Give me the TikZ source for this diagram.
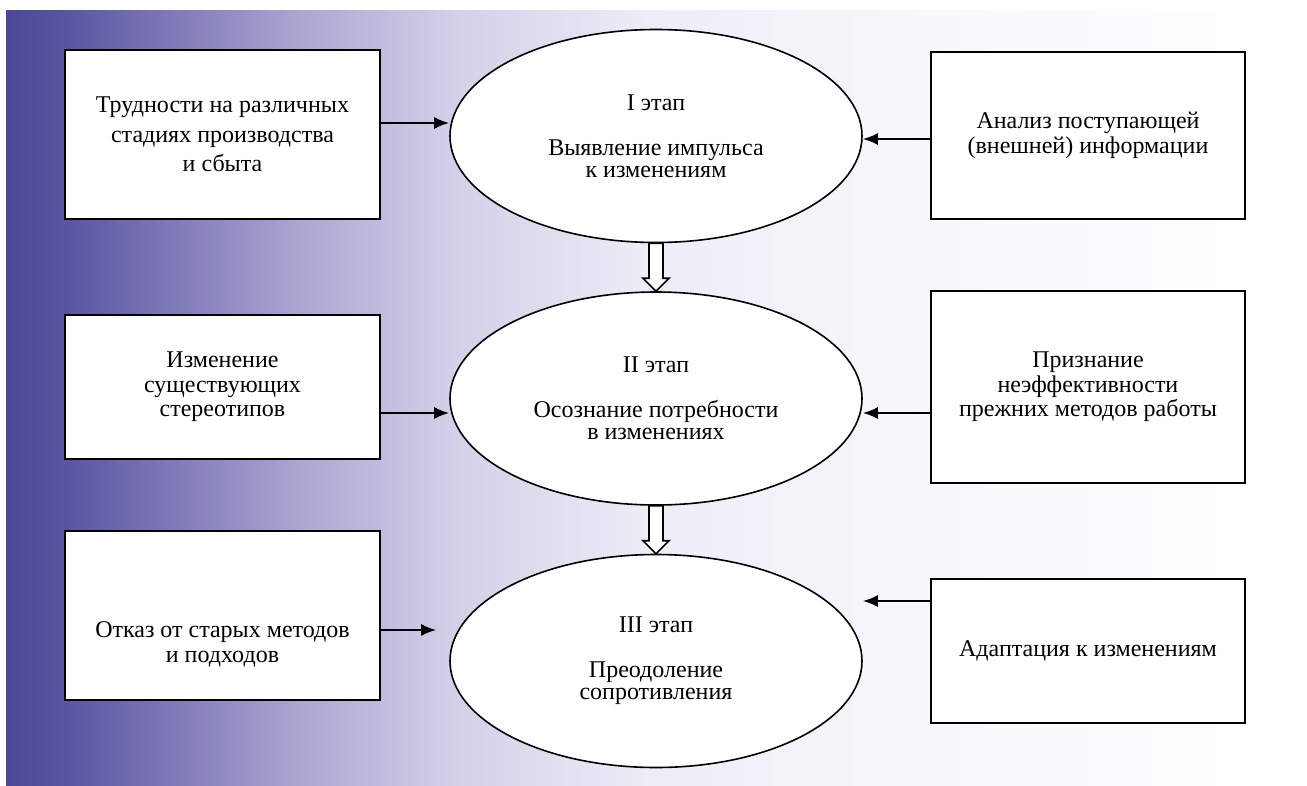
\documentclass[tikz,border=0pt]{standalone}
\usepackage{fontspec}
\setmainfont{Liberation Serif}
\usetikzlibrary{arrows.meta}
\usetikzlibrary{calc}
\usetikzlibrary{shapes.geometric}

\definecolor{bgdark}{RGB}{75,72,153}
\definecolor{bgmid}{RGB}{172,166,210}
\definecolor{bglight}{RGB}{211,207,232}
\definecolor{bgpale}{RGB}{238,237,247}
\definecolor{bgwhite}{RGB}{250,250,253}

\tikzset{
  every node/.style={font=\rmfamily\fontsize{24}{24.5}\selectfont},
  factor/.style={rectangle, draw, line width=1.8pt, fill=white, align=center, inner sep=4pt},
  stage/.style={ellipse, draw, line width=1.6pt, fill=white, align=center, inner sep=0pt,
    minimum width=412pt, minimum height=213pt, font=\rmfamily\fontsize{24}{22}\selectfont},
  push/.style={-{Latex[length=15pt, width=12pt]}, line width=2.2pt},
  blockarrow/.style={draw, line width=1.6pt, fill=white, line join=miter},
}

\begin{document}
\begin{tikzpicture}[x=1pt, y=-1pt]
      \useasboundingbox (0,0) rectangle (1307,785);
      % background
      \shade[left color=bgdark, right color=bgdark!88!bgmid] (6,10) rectangle (60,785);
      \shade[left color=bgdark!88!bgmid, right color=bgmid] (60,10) rectangle (300,785);
      \shade[left color=bgmid, right color=bglight] (300,10) rectangle (450,785);
      \shade[left color=bglight, right color=bgpale] (450,10) rectangle (650,785);
      \shade[left color=bgpale, right color=bgwhite] (650,10) rectangle (1000,785);
      \shade[left color=bgwhite, right color=white] (1000,10) rectangle (1307,785);

      % stages
      \node[stage] (e1) at (656,136) {I этап\\[23pt]Выявление импульса\\к изменениям};
      \node[stage] (e2) at (656,398.5) {II этап\\[23pt]Осознание потребности\\в изменениях};
      \node[stage] (e3) at (656,661) {III этап\\[23pt]Преодоление\\сопротивления};

      % left factors
      \node[factor, minimum width=315pt, minimum height=169pt, font=\rmfamily\fontsize{24}{29.5}\selectfont] (l1) at (222.5,134.5) {Трудности на различных\\стадиях производства\\и сбыта};
      \node[factor, minimum width=315pt, minimum height=144pt] (l2) at (222.5,387) {Изменение\\существующих\\стереотипов};
      \node[factor, minimum width=315pt, minimum height=169pt] (l3) at (222.5,615.5) {};
      \node[align=center] (l3text) at ([yshift=-29pt]l3.center) {Отказ от старых методов\\и подходов};

      % right factors
      \node[factor, minimum width=314pt, minimum height=167pt] (r1) at (1088,135.5) {Анализ поступающей\\(внешней) информации};
      \node[factor, minimum width=314pt, minimum height=192pt] (r2) at (1088,387) {Признание\\неэффективности\\прежних методов работы};
      \node[factor, minimum width=314pt, minimum height=144pt] (r3) at (1088,651) {Адаптация к изменениям};

      \coordinate (t3) at ([xshift=-13pt, yshift=31pt]e3.west);

      \draw[push] ([yshift=11.5pt]l1.east) -- ([yshift=13pt]e1.west);
      \draw[push] ([yshift=-3.5pt]r1.west) -- ([yshift=-3pt]e1.east);
      \draw[push] ([yshift=-26pt]l2.east) -- ([yshift=-14.5pt]e2.west);
      \draw[push] ([yshift=-26pt]r2.west) -- ([yshift=-14.5pt]e2.east);
      \draw[push] ([yshift=-14.5pt]l3.east) -- (t3);
      \draw[push] ([yshift=50pt]r3.west) -- ([yshift=60pt]e3.east);

      % transitions
      \draw[blockarrow] ([xshift=-7pt]e1.south) -- ([xshift=-7pt, yshift=13pt]e2.north) -- ([xshift=-13pt, yshift=13pt]e2.north) -- (e2.north) -- ([xshift=13pt, yshift=13pt]e2.north) -- ([xshift=7pt, yshift=13pt]e2.north) -- ([xshift=7pt]e1.south) -- cycle;
      \draw[blockarrow] ([xshift=-7pt]e2.south) -- ([xshift=-7pt, yshift=13pt]e3.north) -- ([xshift=-13pt, yshift=13pt]e3.north) -- (e3.north) -- ([xshift=13pt, yshift=13pt]e3.north) -- ([xshift=7pt, yshift=13pt]e3.north) -- ([xshift=7pt]e2.south) -- cycle;
\end{tikzpicture}
\end{document}
